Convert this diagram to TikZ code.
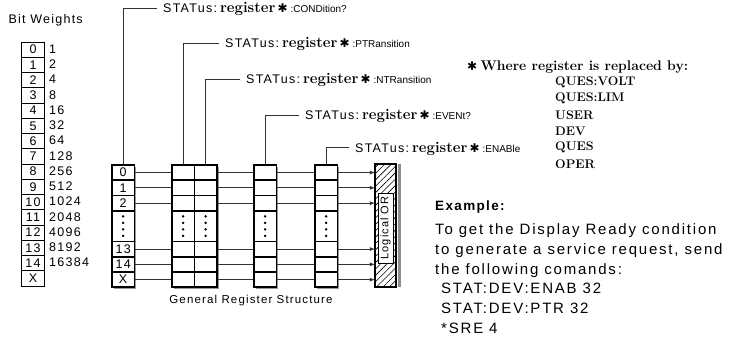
\documentclass[tikz,border=0pt]{standalone}
\usepackage{fontspec}
\usepackage{tikz}
\usetikzlibrary{arrows,shadows,patterns.meta}

\newfontfamily\plotfont[LetterSpace=10]{Liberation Sans}
\newfontfamily\plotnarrow{Liberation Sans}
\newfontfamily\symbfont{DejaVu Sans}
\newcommand{\plottxt}{\plotfont\fontsize{12.5bp}{15bp}\selectfont}
\newcommand{\captxt}{\plotfont\fontsize{11.5bp}{14bp}\selectfont}
\newcommand{\ortxt}{\plotfont\fontsize{11bp}{13bp}\selectfont}
\newcommand{\narrowtxt}{\plotnarrow\fontsize{10bp}{12bp}\selectfont}
\newcommand{\bigtxt}{\plotfont\addfontfeatures{LetterSpace=12}\fontsize{15bp}{18bp}\selectfont}
\newcommand{\extitle}{\plotfont\bfseries\fontsize{13.5bp}{16bp}\selectfont}
\newcommand{\listtxt}{\rmfamily\bfseries\fontsize{12.5bp}{15bp}\selectfont}
\newcommand{\regword}{{\rmfamily\bfseries\fontsize{15bp}{17bp}\selectfont register}}
\newcommand{\regstar}{{\symbfont\fontsize{12bp}{14bp}\selectfont ✱}}
\newcommand{\statcmd}[1]{{\plottxt STATus:}\hspace{3bp}\regword\hspace{2bp}\regstar\hspace{3bp}{\narrowtxt :#1}}

\begin{document}
\begin{tikzpicture}[x=1bp,y=-1bp,
	cell/.style={draw,line width=1.8bp,fill=white,anchor=north west,inner sep=0pt,
		minimum width=22.5bp,font=\plottxt,
		drop shadow={shadow xshift=1.8bp,shadow yshift=-1.8bp,fill=black!40,opacity=1}},
	bitcell/.style={draw,line width=1bp,anchor=north west,inner sep=0pt,
		minimum width=23bp,minimum height=15.25bp,font=\plottxt},
	callout/.style={anchor=west,inner xsep=6bp,inner ysep=0pt,text height=9bp,text depth=0bp},
	wire/.style={line width=0.8bp,black!80}]
	\useasboundingbox (0,0) rectangle (730,339);
	%
	% bit weights
	\node[anchor=west,font=\plottxt] (bwtitle) at (5,20) {Bit Weights};
	\foreach \b/\v [count=\i from 0] in {0/1,1/2,2/4,3/8,4/16,5/32,6/64,7/128,8/256,9/512,10/1024,11/2048,12/4096,13/8192,14/16384}{
		\node[bitcell] (bit-\b) at (21,41.5+15.25*\i) {\b};
		\node[anchor=west,font=\plottxt,inner sep=0pt] (wt-\b) at (49,49.1+15.25*\i) {\v};
	}
	\node[bitcell] (bit-X) at (21,270.25) {X};
	%
	% register columns
	\foreach \r/\t/\y/\h in {0/0/164/15.3bp,1/1/179.3/15.3bp,2/2/194.6/15.3bp,d//209.9/30.6bp,13/13/240.5/15.3bp,14/14/255.8/15.3bp,X/X/271.1/15.3bp}
		\node[cell,minimum height=\h] (A-\r) at (111,\y) {\t};
	\foreach \c/\x in {B/171,C/193.5,D/253,E/314}{
		\foreach \r/\y/\h in {0/164/15.3bp,1/179.3/15.3bp,2/194.6/15.3bp,d/209.9/30.6bp,13/240.5/15.3bp,14/255.8/15.3bp,X/271.1/15.3bp}
			\node[cell,minimum height=\h] (\c-\r) at (\x,\y) {};
	}
	\foreach \c in {A,B,C,D,E}
		\foreach \k in {-9.75bp,-3.25bp,3.25bp,9.75bp}
			\fill ([yshift=\k]\c-d.center) circle (1.3bp);
	%
	% logical or
	\node[draw,line width=1.8bp,anchor=north west,minimum width=21bp,minimum height=122.4bp,
		pattern={Lines[angle=45,distance=4.5bp,line width=0.6bp]}] (OR) at (375,164) {};
	\fill[black!45] ([xshift=0.9bp]OR.north east) rectangle ([xshift=4bp]OR.south east);
	\node[draw,line width=0.8bp,fill=white,rotate=90,minimum width=70bp,minimum height=15bp,
		inner sep=0pt,font=\ortxt] (ORtxt) at (385.5,228) {Logical OR};
	%
	\foreach \r in {0,1,2,13,14,X}{
		\path[wire]
		(A-\r) edge (B-\r)
		(C-\r) edge (D-\r)
		(D-\r) edge (E-\r)
		(E-\r) edge[->,>=latex] (E-\r -| OR.west);
	}
	%
	% commands
	\node[callout] (cond) at (157,8) {\statcmd{CONDition?}};
	\node[callout] (ptr) at (219,43) {\statcmd{PTRansition}};
	\node[callout] (ntr) at (240,79) {\statcmd{NTRansition}};
	\node[callout] (evnt) at (299,115) {\statcmd{EVENt?}};
	\node[callout] (enab) at (349,147.5) {\statcmd{ENABle}};
	\draw[wire] (cond.west) -| (A-0.north);
	\draw[wire] (ptr.west) -| (B-0.north);
	\draw[wire] (ntr.west) -| (C-0.north);
	\draw[wire] (evnt.west) -| (D-0.north);
	\draw[wire] (enab.west) -| (E-0.north);
	%
	\node[font=\captxt] (caption) at (251,301) {General Register Structure};
	%
	% replacement list
	\node[anchor=base west,inner sep=0pt] (where) at (467,70.8)
		{\regstar\ {\rmfamily\bfseries\fontsize{14bp}{16bp}\selectfont Where register is replaced by:}};
	\foreach \n/\t [count=\i from 0] in {volt/QUES:VOLT,lim/QUES:LIM,user/USER,dev/DEV,ques/QUES,oper/OPER}
		\node[anchor=west,inner sep=0pt,font=\listtxt] (\n) at (555,82.5+16.25*\i) {\t};
	%
	% example
	\node[anchor=base west,inner sep=0pt,font=\extitle] (extitle) at (435,210.3) {Example:};
	\foreach \t [count=\i from 0] in {To get the Display Ready condition,{to generate a service request, send},the following comands:,\hspace*{6bp}STAT:DEV:ENAB 32,\hspace*{6bp}STAT:DEV:PTR 32,\hspace*{6bp}*SRE 4}
		\node[anchor=base west,inner sep=0pt,font=\bigtxt] (ex-\i) at (435,234.5+19.8*\i) {\t};
\end{tikzpicture}
\end{document}
